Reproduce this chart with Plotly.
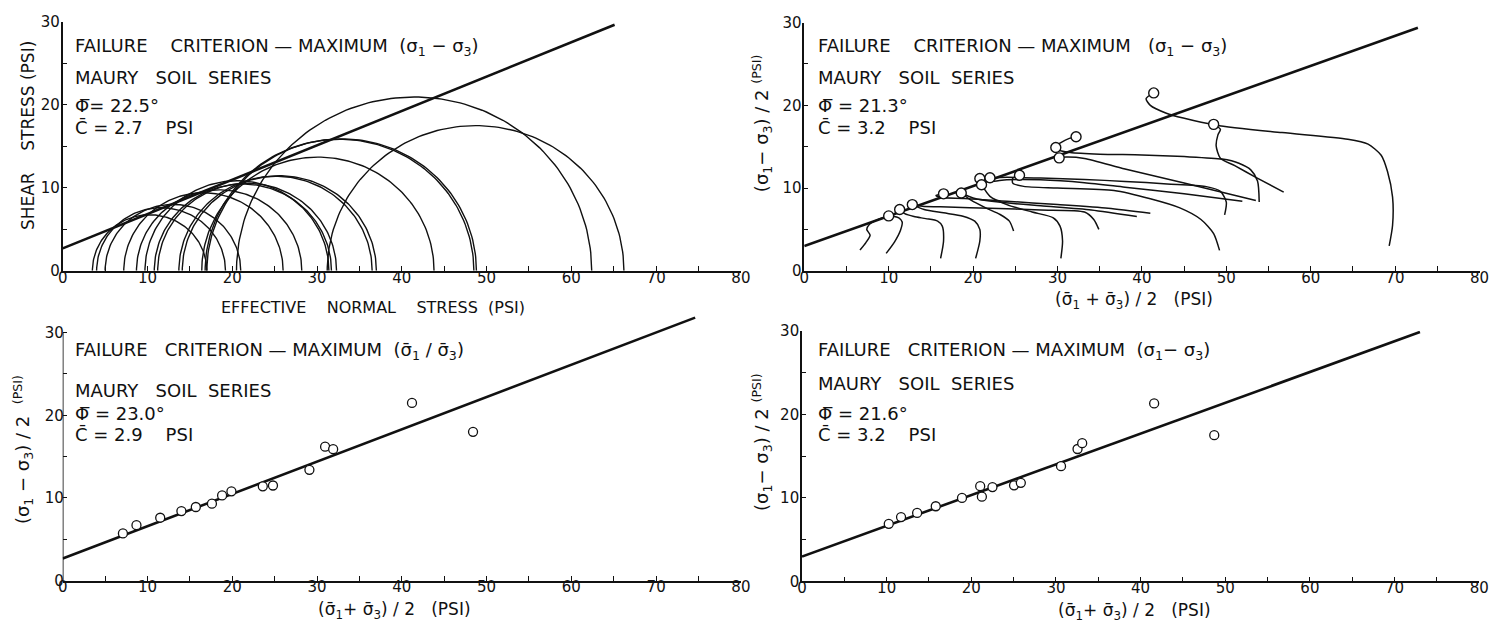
import numpy as np
import plotly.graph_objects as go

W, H = 1510, 642
FONT = "DejaVu Sans"
INK = "#111111"

x_ticks = [0, 10, 20, 30, 40, 50, 60, 70, 80]
x_minor = [5, 15, 25, 35, 45, 55, 65, 75]
y_ticks = [0, 10, 20, 30]
y_minor = [5, 15, 25]

# Mohr circles at failure (max deviator): effective minor / major principal stress, psi
mohr_s3 = [3.5, 4.0, 5.0, 7.2, 8.7, 9.7, 10.8, 11.2, 13.7, 14.1, 16.4, 16.8, 17.0, 20.5, 31.2]
mohr_s1 = [17.0, 19.2, 21.0, 26.0, 28.2, 31.4, 31.7, 32.3, 36.5, 37.0, 43.8, 48.5, 48.8, 62.4, 66.2]
mohr_phi, mohr_c, mohr_sigma_end = 22.5, 2.7, 65.1

# Effective stress paths in p-q space (p = (σ1+σ3)/2, q = (σ1-σ3)/2), psi
path_p = [
    [6.6, 7.3, 7.8, 7.4, 7.7, 8.5, 9.4],
    [9.7, 10.7, 11.4, 11.6, 11.2, 10.5, 10.0],
    [16.15, 16.5, 16.35, 15.8, 14.4, 13.0, 11.9, 11.3],
    [20.3, 20.8, 20.8, 20.2, 18.8, 16.5, 14.2, 12.8],
    [34.9, 34.3, 33.2, 28.0, 22.0, 17.0, 14.0, 12.8],
    [41.0, 36.0, 30.0, 24.0, 19.0, 16.2, 15.6, 16.5],
    [39.4, 34.0, 28.0, 23.0, 20.0, 18.6],
    [24.8, 24.3, 23.2, 21.5, 19.8, 18.6],
    [30.4, 30.6, 30.3, 29.5, 27.0, 24.0, 22.0, 21.0],
    [51.9, 45.0, 38.0, 33.2, 28.0, 24.0, 22.0, 20.8],
    [49.8, 50.0, 49.3, 47.5, 43.0, 38.0, 33.2, 28.0, 24.0, 22.0],
    [49.2, 48.5, 47.0, 44.5, 41.0, 36.7, 30.0, 26.0, 24.7, 24.7, 25.5],
    [53.5, 45.0, 38.0, 33.2, 31.0, 30.2],
    [53.9, 53.7, 52.9, 51.5, 49.5, 45.0, 40.0, 35.0, 31.5, 30.0, 29.7, 30.4, 31.4, 32.2],
    [56.8, 53.5, 51.0, 49.3, 48.8, 49.0, 49.3, 48.5],
    [69.3, 69.7, 69.7, 69.1, 68.35, 66.8, 64.4, 56.6, 48.8, 44.9, 42.9, 41.0, 40.5, 41.4],
]
path_q = [
    [2.5, 3.4, 4.3, 5.0, 5.6, 6.1, 6.45],
    [2.1, 3.5, 4.9, 5.9, 6.4, 6.6, 6.63],
    [1.5, 3.6, 5.4, 6.0, 6.3, 6.55, 6.9, 7.4],
    [1.5, 3.6, 5.0, 6.0, 6.6, 7.0, 7.4, 8.0],
    [5.0, 6.2, 7.1, 7.35, 7.55, 7.7, 7.8, 8.0],
    [6.95, 7.55, 8.0, 8.4, 8.75, 8.85, 9.1, 9.3],
    [6.55, 7.35, 7.85, 8.3, 8.8, 9.4],
    [4.8, 6.0, 6.8, 7.6, 8.5, 9.4],
    [1.5, 3.6, 5.4, 6.4, 7.1, 8.0, 9.0, 10.4],
    [8.4, 9.3, 10.1, 10.65, 11.0, 11.0, 10.8, 11.16],
    [6.75, 8.3, 9.6, 10.2, 10.5, 10.8, 11.04, 11.2, 11.3, 11.24],
    [2.46, 4.5, 6.2, 7.6, 8.7, 9.7, 10.0, 10.2, 10.6, 11.2, 11.55],
    [8.5, 10.6, 12.3, 13.58, 13.75, 13.65],
    [8.3, 10.85, 12.2, 13.0, 13.5, 13.8, 14.0, 14.1, 14.3, 14.6, 15.0, 15.5, 16.0, 16.2],
    [9.5, 11.3, 12.7, 13.6, 15.1, 16.4, 17.1, 17.7],
    [3.0, 5.5, 8.9, 12.0, 13.97, 15.3, 15.9, 16.7, 17.6, 18.46, 19.05, 20.0, 20.8, 21.5],
]
# failure points on the paths (max deviator)
path_fail_p = [10.0, 11.3, 12.8, 16.5, 18.6, 20.8, 21.0, 22.0, 25.5, 29.8, 30.2, 32.2, 41.4, 48.5]
path_fail_q = [6.63, 7.4, 8.0, 9.3, 9.4, 11.16, 10.4, 11.24, 11.55, 14.9, 13.65, 16.2, 21.5, 17.7]
path_phi, path_c, path_p_end = 21.3, 3.2, 72.7

# failure points, max principal stress ratio
ratio_p = [7.1, 8.7, 11.5, 14.0, 15.7, 17.6, 18.8, 19.9, 23.6, 24.8, 29.1, 30.95, 31.9, 41.2, 48.4]
ratio_q = [5.7, 6.7, 7.6, 8.4, 8.9, 9.3, 10.3, 10.8, 11.4, 11.5, 13.4, 16.2, 15.9, 21.5, 18.0]
ratio_phi, ratio_c, ratio_p_end = 23.0, 2.9, 74.6

# failure points, max deviator stress
dev_p = [10.25, 11.7, 13.6, 15.8, 18.9, 21.05, 21.25, 22.5, 25.05, 25.85, 30.6, 32.55, 33.1, 41.6, 48.7]
dev_q = [6.9, 7.7, 8.2, 9.0, 10.0, 11.4, 10.15, 11.3, 11.5, 11.8, 13.8, 15.85, 16.55, 21.3, 17.5]
dev_phi, dev_c, dev_p_end = 21.6, 3.2, 73.0


def pq_envelope(c, phi, p_end):
    p = np.array([0.0, p_end])
    r = np.radians(phi)
    return p, c * np.cos(r) + p * np.sin(r)


def mohr_envelope(c, phi, s_end):
    s = np.array([0.0, s_end])
    return s, c + s * np.tan(np.radians(phi))


fig = go.Figure()

# --- panel 1: Mohr circles
t = np.linspace(0, np.pi, 121)
cx, cy = [], []
for s3, s1 in zip(mohr_s3, mohr_s1):
    ctr, rad = (s1 + s3) / 2, (s1 - s3) / 2
    cx += list(ctr + rad * np.cos(t)) + [None]
    cy += list(rad * np.sin(t)) + [None]
fig.add_trace(go.Scatter(x=cx, y=cy, mode="lines", line=dict(color=INK, width=1.4),
                         xaxis="x", yaxis="y", hoverinfo="skip"))
ex, ey = mohr_envelope(mohr_c, mohr_phi, mohr_sigma_end)
fig.add_trace(go.Scatter(x=ex, y=ey, mode="lines", line=dict(color=INK, width=2.6),
                         xaxis="x", yaxis="y"))

# --- panel 2: stress paths
px_, py_ = [], []
for a, b in zip(path_p, path_q):
    px_ += a + [None]
    py_ += b + [None]
fig.add_trace(go.Scatter(x=px_, y=py_, mode="lines", line=dict(color=INK, width=1.5, shape="spline", smoothing=0.7),
                         xaxis="x2", yaxis="y2", connectgaps=False, hoverinfo="skip"))
ex, ey = pq_envelope(path_c, path_phi, path_p_end)
fig.add_trace(go.Scatter(x=ex, y=ey, mode="lines", line=dict(color=INK, width=2.6),
                         xaxis="x2", yaxis="y2"))
fig.add_trace(go.Scatter(x=path_fail_p, y=path_fail_q, mode="markers",
                         marker=dict(symbol="circle", size=10, color="white", line=dict(color=INK, width=1.4)),
                         xaxis="x2", yaxis="y2"))

# --- panel 3: max stress ratio
ex, ey = pq_envelope(ratio_c, ratio_phi, ratio_p_end)
fig.add_trace(go.Scatter(x=ex, y=ey, mode="lines", line=dict(color=INK, width=2.6),
                         xaxis="x3", yaxis="y3"))
fig.add_trace(go.Scatter(x=ratio_p, y=ratio_q, mode="markers",
                         marker=dict(symbol="circle", size=9, color="white", line=dict(color=INK, width=1.3)),
                         xaxis="x3", yaxis="y3"))

# --- panel 4: max deviator
ex, ey = pq_envelope(dev_c, dev_phi, dev_p_end)
fig.add_trace(go.Scatter(x=ex, y=ey, mode="lines", line=dict(color=INK, width=2.6),
                         xaxis="x4", yaxis="y4"))
fig.add_trace(go.Scatter(x=dev_p, y=dev_q, mode="markers",
                         marker=dict(symbol="circle", size=9, color="white", line=dict(color=INK, width=1.3)),
                         xaxis="x4", yaxis="y4"))


def xdom(a, b):
    return [a / W, b / W]


def ydom(bottom, top):
    return [1 - bottom / H, 1 - top / H]


tickfont = dict(family=FONT, size=15, color=INK)


def xaxis(dom, anchor):
    return dict(domain=dom, anchor=anchor, range=[0, 80], showline=True, linecolor=INK, linewidth=1.6,
                ticks="inside", ticklen=5, tickwidth=1.2, tickcolor=INK, tickvals=x_ticks,
                minor=dict(tickvals=x_minor, ticks="inside", ticklen=5, tickwidth=1.2, tickcolor=INK),
                showgrid=False, zeroline=False, tickfont=tickfont, ticklabelstandoff=-8)


def yaxis(dom, anchor, top, line=True):
    return dict(domain=dom, anchor=anchor, range=[0, top], showline=line, linecolor=INK, linewidth=1.6,
                ticks="inside", ticklen=4, tickwidth=1.2, tickcolor=INK, tickvals=y_ticks,
                minor=dict(tickvals=y_minor, ticks="inside", ticklen=4, tickwidth=1.2, tickcolor=INK),
                showgrid=False, zeroline=False, tickfont=tickfont, ticklabelstandoff=-2)


fig.update_layout(
    width=W, height=H, margin=dict(l=0, r=0, t=0, b=0),
    paper_bgcolor="white", plot_bgcolor="rgba(0,0,0,0)", showlegend=False,
    font=dict(family=FONT, color=INK),
    xaxis=xaxis(xdom(58.3, 743.3), "y"),
    yaxis=yaxis(ydom(269.3, 13.3), "x", 30),
    xaxis2=xaxis(xdom(807.3, 1489.3), "y2"),
    yaxis2=yaxis(ydom(269.3, 14.0), "x2", 30),
    xaxis3=xaxis(xdom(58.3, 743.3), "y3"),
    yaxis3=yaxis(ydom(588.0, 299.0), "x3", 34, line=False),
    xaxis4=xaxis(xdom(805.0, 1489.0), "y4"),
    yaxis4=yaxis(ydom(589.0, 331.0), "x4", 30),
)

# vertical axis line of panel 3 stops at 30 psi
fig.add_shape(type="line", xref="x3", yref="y3", x0=0, x1=0, y0=0, y1=30,
              line=dict(color=INK, width=1.6))

NB = "\u00a0"
S1 = "σ<sub>1</sub>"
S3 = "σ<sub>3</sub>"
SB1 = "σ\u0304<sub>1</sub>"
SB3 = "σ\u0304<sub>3</sub>"
PHI = "Φ\u0305"
CB = "C\u0304"


def ann(X, Y, text, size=17, xanchor="left", angle=0):
    fig.add_annotation(x=X / W, y=1 - Y / H, xref="paper", yref="paper", text=text, showarrow=False,
                       xanchor=xanchor, yanchor="middle", textangle=angle,
                       font=dict(family=FONT, size=size, color=INK))


sp = lambda n: NB * n

# panel text blocks
blocks = [
    (69, [39, 70, 99, 122],
     ["FAILURE" + sp(4) + "CRITERION — MAXIMUM" + sp(2) + "(" + S1 + " − " + S3 + ")",
      "MAURY" + sp(3) + "SOIL" + sp(2) + "SERIES", PHI + "= 22.5°", CB + " = 2.7" + sp(4) + "PSI"]),
    (819, [39, 70, 99, 122],
     ["FAILURE" + sp(4) + "CRITERION — MAXIMUM" + sp(3) + "(" + S1 + " − " + S3 + ")",
      "MAURY" + sp(3) + "SOIL" + sp(2) + "SERIES", PHI + " = 21.3°", CB + " = 3.2" + sp(4) + "PSI"]),
    (69, [352, 392, 416, 438],
     ["FAILURE" + sp(3) + "CRITERION — MAXIMUM" + sp(2) + "(" + SB1 + " / " + SB3 + ")",
      "MAURY" + sp(3) + "SOIL" + sp(2) + "SERIES", PHI + " = 23.0°", CB + " = 2.9" + sp(4) + "PSI"]),
    (819, [352, 385, 416, 438],
     ["FAILURE" + sp(3) + "CRITERION — MAXIMUM" + sp(2) + "(" + S1 + "− " + S3 + ")",
      "MAURY" + sp(3) + "SOIL" + sp(2) + "SERIES", PHI + " = 21.6°", CB + " = 3.2" + sp(4) + "PSI"]),
]
for X, ys, lines in blocks:
    for Y, txt in zip(ys, lines):
        ann(X, Y, txt, size=18)

# axis titles
ann(372, 307, "EFFECTIVE" + sp(4) + "NORMAL" + sp(4) + "STRESS" + sp(2) + "(PSI)", size=16, xanchor="center")
ann(1140, 300, "(" + SB1 + " + " + SB3 + ") / 2" + sp(3) + "(PSI)", size=17, xanchor="center")
ann(393, 619, "(" + SB1 + "+ " + SB3 + ") / 2" + sp(3) + "(PSI)", size=17, xanchor="center")
ann(1141, 620, "(" + SB1 + "+ " + SB3 + ") / 2" + sp(3) + "(PSI)", size=17, xanchor="center")

ann(24, 130, "SHEAR" + sp(4) + "STRESS (PSI)", size=17, xanchor="center", angle=-90)
ann(764, 117, "(" + S1 + "− " + S3 + ") / 2 <sup>(PSI)</sup>", size=18, xanchor="center", angle=-90)
ann(18, 453, "(" + S1 + " − " + S3 + ") / 2" + sp(2) + "<sup>(PSI)</sup>", size=18, xanchor="center", angle=-90)
ann(764, 445, "(" + S1 + "− " + S3 + ") / 2 <sup>(PSI)</sup>", size=18, xanchor="center", angle=-90)

fig.write_html("out.html")
